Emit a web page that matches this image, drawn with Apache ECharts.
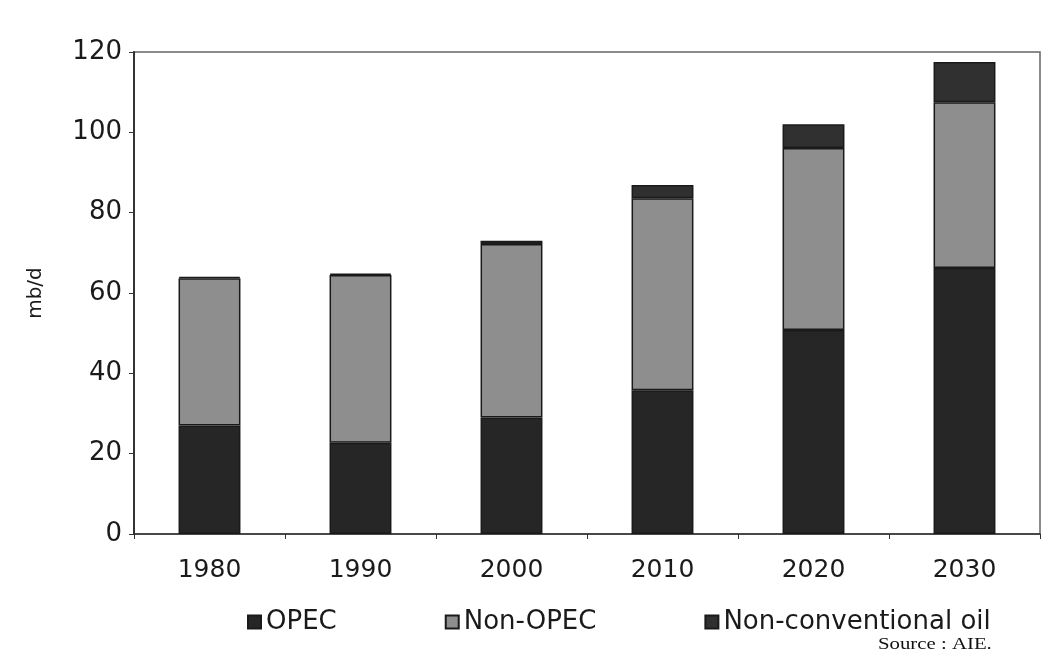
<!DOCTYPE html>
<html>
<head>
<meta charset="utf-8">
<script src="https://cdn.jsdelivr.net/npm/echarts@6/dist/echarts.min.js"></script>
<style>html,body{margin:0;padding:0;background:#fff;}#c{width:1056px;height:656px;}</style>
</head>
<body>
<div id="c"></div>
<script>
const categories = ['1980', '1990', '2000', '2010', '2020', '2030'];
const opec = [27, 22.7, 29, 35.8, 50.8, 66.2];
const nonOpec = [36.7, 41.8, 43.2, 47.8, 45.3, 41.3];
const nonConventional = [0.3, 0.3, 0.8, 3.3, 5.9, 10];
const yTicks = [0, 20, 40, 60, 80, 100, 120];
const seriesNames = ['OPEC', 'Non-OPEC', 'Non-conventional oil'];

const font = '"DejaVu Sans", sans-serif';
const chart = echarts.init(document.getElementById('c'), null, {renderer: 'canvas'});
const barStyle = (c) => ({color: c, borderColor: '#1a1a1a', borderWidth: 1.5});
chart.setOption({
  animation: false,
  backgroundColor: '#ffffff',
  grid: {left: 134, right: 16, top: 52, bottom: 122, show: true, borderColor: '#666', borderWidth: 1.5, backgroundColor: 'transparent'},
  legend: {
    bottom: 16, left: 242, itemGap: 108, itemWidth: 13, itemHeight: 13,
    icon: 'rect',
    textStyle: {fontFamily: font, fontSize: 26, color: '#1a1a1a'},
    data: seriesNames
  },
  xAxis: {
    type: 'category', data: categories,
    axisLine: {lineStyle: {color: '#333', width: 1.5}},
    axisTick: {show: true, length: 5, lineStyle: {color: '#333'}},
    axisLabel: {fontFamily: font, fontSize: 25, color: '#1a1a1a', margin: 24}
  },
  yAxis: {
    type: 'value', min: yTicks[0], max: yTicks[yTicks.length - 1], interval: 20,
    name: 'mb/d', nameLocation: 'middle', nameGap: 88,
    nameTextStyle: {fontFamily: font, fontSize: 20, color: '#1a1a1a'},
    axisLine: {show: true, lineStyle: {color: '#333', width: 2}},
    axisTick: {show: true, length: 5, lineStyle: {color: '#333'}},
    splitLine: {show: false},
    axisLabel: {fontFamily: font, fontSize: 26, color: '#1a1a1a', margin: 12}
  },
  series: [
    {name: seriesNames[0], type: 'bar', stack: 'total', barWidth: '41%', data: opec, itemStyle: barStyle('#262626')},
    {name: seriesNames[1], type: 'bar', stack: 'total', data: nonOpec, itemStyle: barStyle('#8e8e8e')},
    {name: seriesNames[2], type: 'bar', stack: 'total', data: nonConventional, itemStyle: barStyle('#303030')}
  ],
  graphic: [{
    type: 'text', x: 878, y: 637, scaleX: 1.3,
    style: {text: 'Source : AIE.', font: '16px "Liberation Serif", serif', fill: '#111'}
  }]
});
</script>
</body>
</html>
